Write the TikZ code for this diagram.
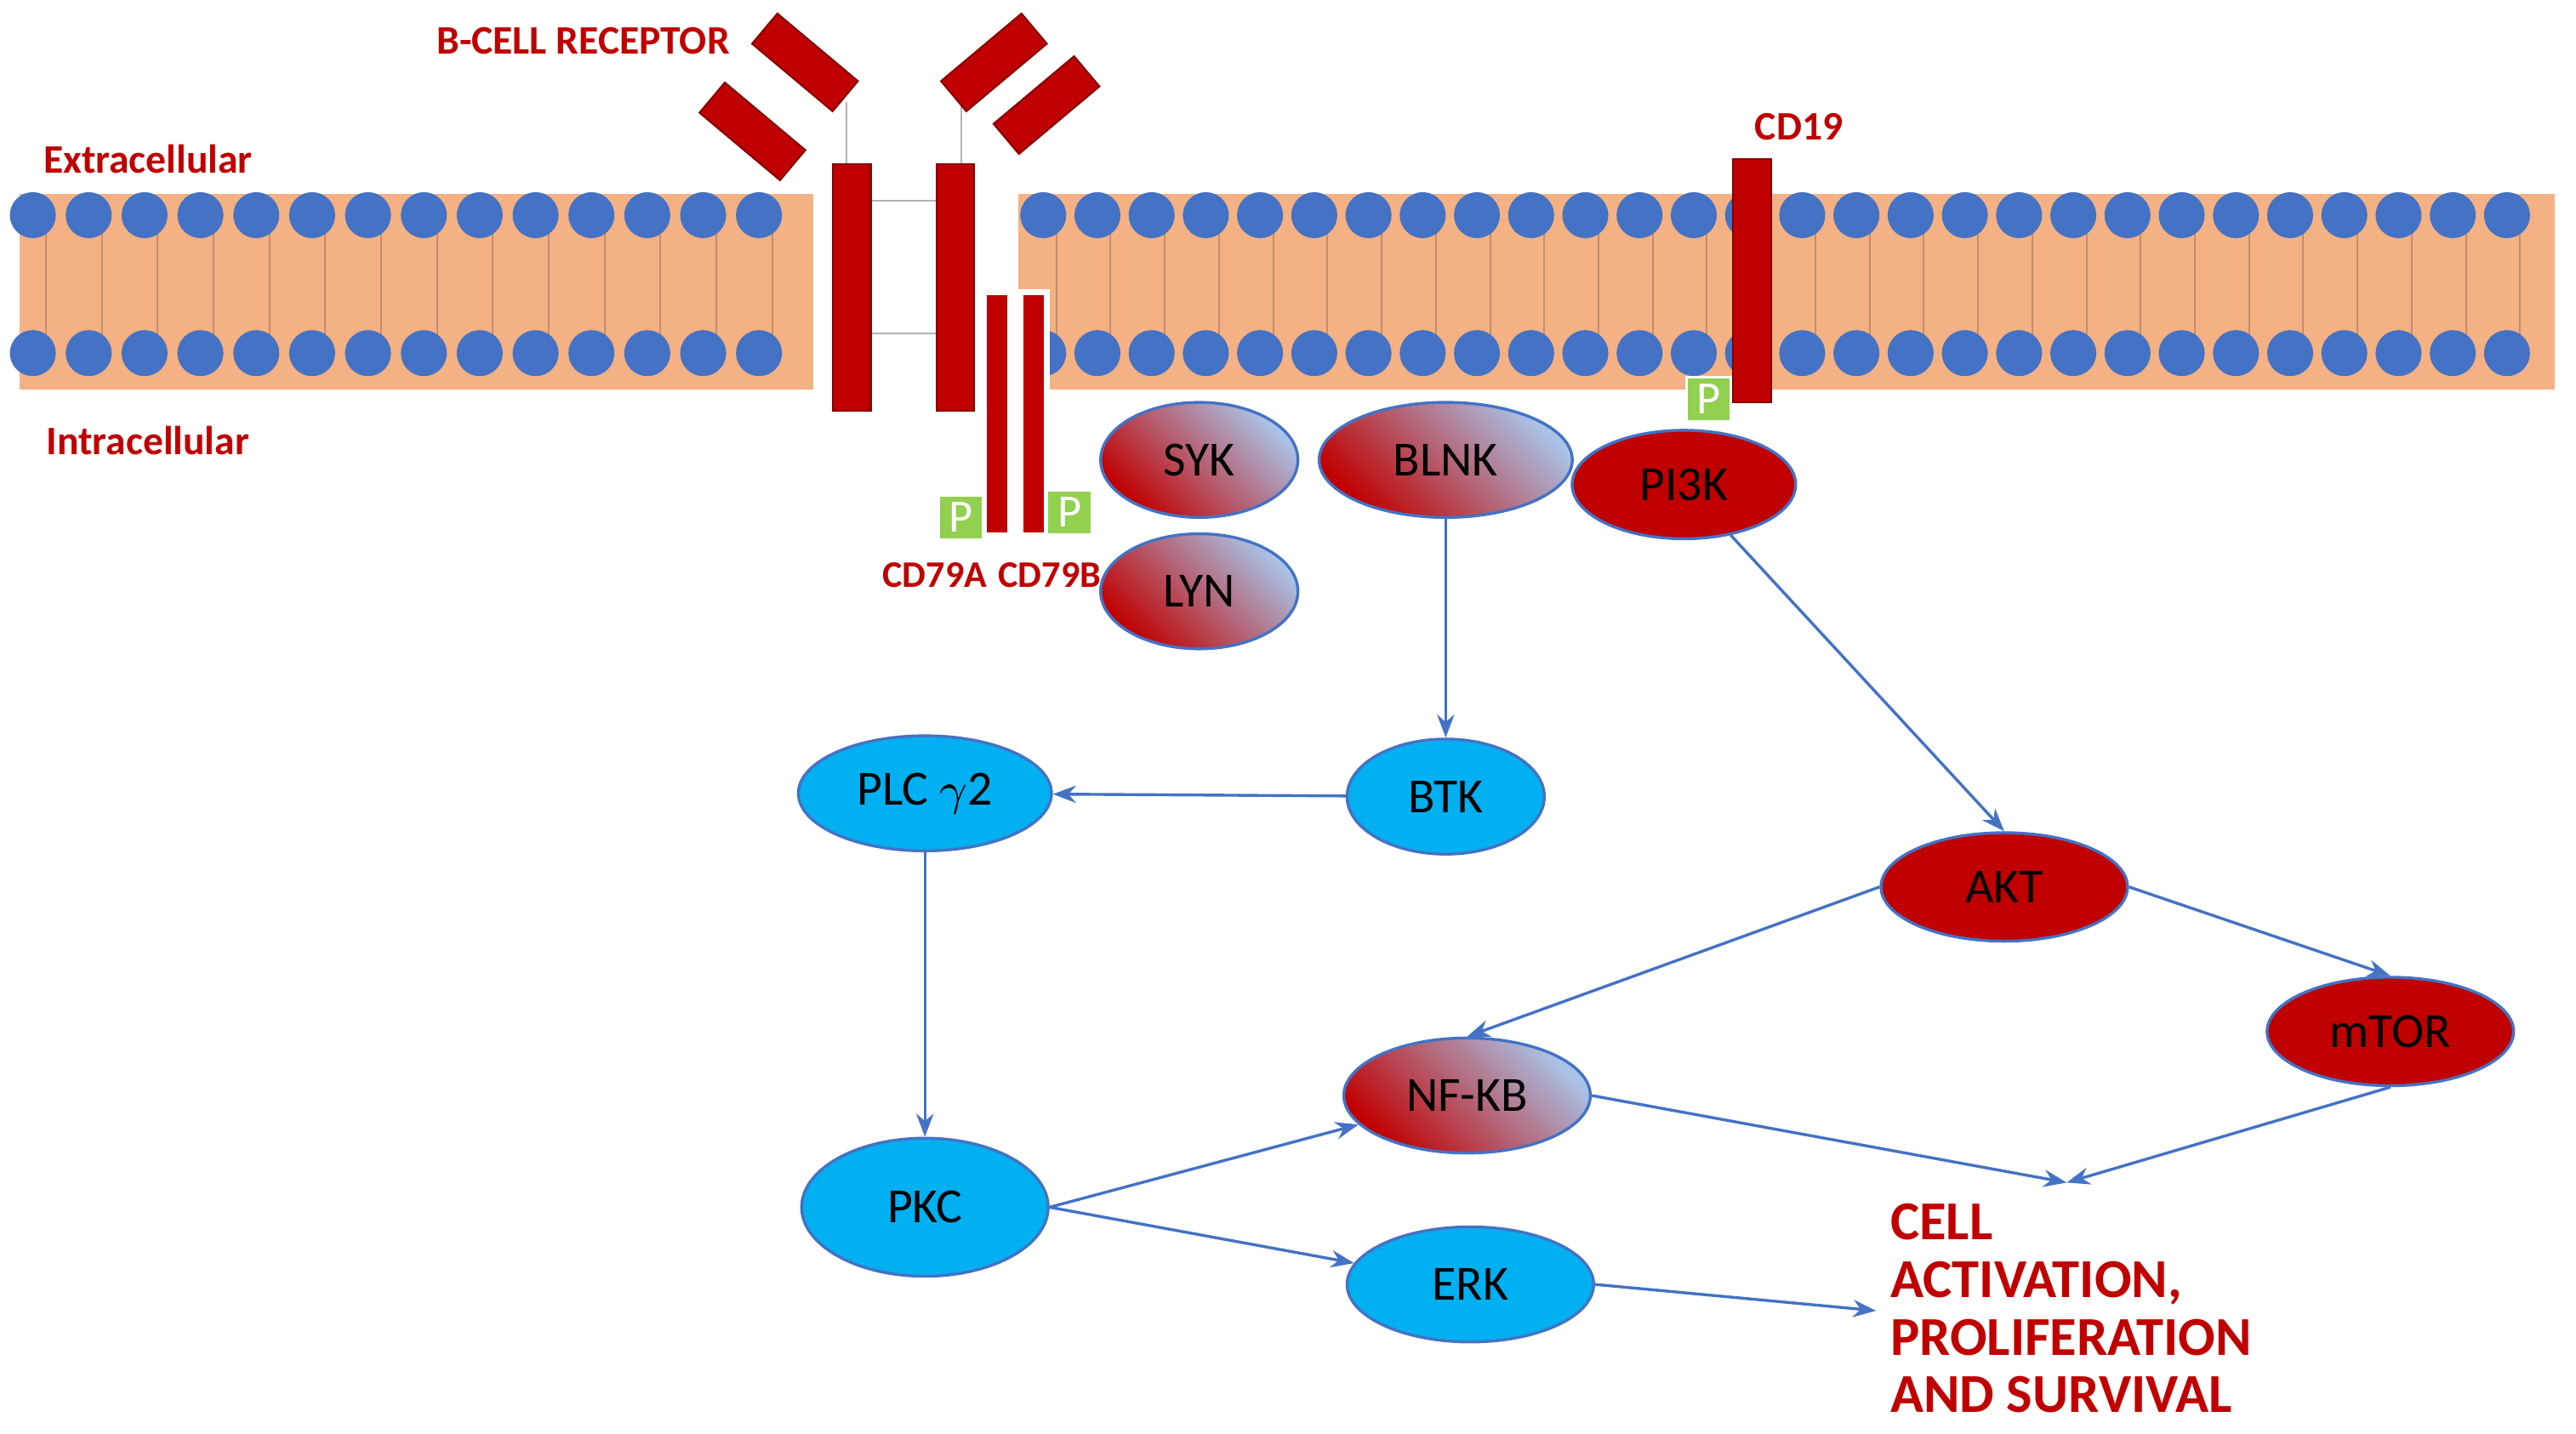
\documentclass[tikz,border=0pt]{standalone}
\usepackage{fontspec}
\setmainfont{Carlito}
\usetikzlibrary{arrows.meta,shapes.geometric}
\definecolor{dred}{HTML}{C00000}
\definecolor{lblue}{HTML}{4472C4}
\definecolor{cyanb}{HTML}{00B0F0}
\definecolor{memb}{HTML}{F4B183}
\definecolor{pgreen}{HTML}{92D050}
\definecolor{gblue}{HTML}{A9C4E8}
\tikzset{
  prot/.style={ellipse,draw=lblue,line width=0.5pt,minimum width=1.5cm,minimum height=0.7cm,font=\fontsize{8.5}{9}\selectfont,inner sep=0pt},
  grad/.style={prot,left color=dred,right color=gblue,shading angle=135},
  redp/.style={prot,fill=dred},
  cyanp/.style={prot,fill=cyanb},
  lab/.style={text=dred,font=\bfseries\fontsize{7}{8}\selectfont},
  arr/.style={draw=lblue,line width=0.5pt,-{Stealth[length=4pt,width=3pt]}},
  chain/.style={fill=dred,draw=dred!70!black,line width=0.3pt},
  pbox/.style={fill=pgreen,draw=white,line width=0.4pt,text=white,font=\fontsize{8}{9}\selectfont,minimum size=0.27cm,inner sep=0pt}
}
\begin{document}
\begin{tikzpicture}[x=0.01cm,y=-0.01cm]
        \useasboundingbox (0,0) rectangle (1568,873);
        % membrane
        \fill[memb] (12,118) rectangle (495,237);
        \fill[memb] (620,118) rectangle (1555,237);
        \foreach \x in {20,54,...,480} {
          \draw[memb!80!black,line width=0.3pt] (\x+8,131) -- (\x+8,215);
          \fill[lblue] (\x,131) circle (14);
          \fill[lblue] (\x,215) circle (14);
        }
        \foreach \x in {635,668,...,1545} {
          \draw[memb!80!black,line width=0.3pt] (\x+8,131) -- (\x+8,215);
          \fill[lblue] (\x,131) circle (14);
          \fill[lblue] (\x,215) circle (14);
        }
        % receptor
        \draw[gray!60,line width=0.3pt] (530,122) -- (570,122) (530,203) -- (570,203)
          (515,62) -- (515,100) (585,62) -- (585,100);
        \draw[chain,rotate around={-40:(490,38)}] (458,26) rectangle (522,50);
        \draw[chain,rotate around={-40:(458,80)}] (426,68) rectangle (490,92);
        \draw[chain,rotate around={40:(605,38)}] (573,26) rectangle (637,50);
        \draw[chain,rotate around={40:(637,64)}] (605,52) rectangle (669,76);
        \draw[chain] (507,100) rectangle (530,250);
        \draw[chain] (570,100) rectangle (593,250);
        \draw[chain,draw=white,line width=1pt] (599,178) rectangle (615,326);
        \draw[chain,draw=white,line width=1pt] (621,178) rectangle (637,326);
        \draw[chain] (1055,97) rectangle (1078,245);
        \draw (585,315) node[pbox](pa){P};
        \draw (651,312) node[pbox](pb){P};
        \draw (1040,243) node[pbox](pc){P};
        % labels
        \draw (355,25) node[lab](bcr){B-CELL RECEPTOR};
        \draw (90,97) node[lab](ext){Extracellular};
        \draw (90,268) node[lab](int){Intracellular};
        \draw (1095,77) node[lab](cd19){CD19};
        \draw (569,350) node[lab,font=\bfseries\fontsize{6.5}{8}\selectfont](cda){CD79A};
        \draw (639,350) node[lab,font=\bfseries\fontsize{6.5}{8}\selectfont](cdb){CD79B};
        % proteins
        \draw (730,280) node[grad,minimum width=1.2cm](syk){SYK};
        \draw (730,360) node[grad,minimum width=1.2cm](lyn){LYN};
        \draw (880,280) node[grad,minimum width=1.54cm](blnk){BLNK};
        \draw (1025,295) node[redp,minimum width=1.36cm,minimum height=0.66cm](pik){PI3K};
        \draw (880,485) node[cyanp,minimum width=1.2cm](btk){BTK};
        \draw (563,483) node[cyanp,minimum width=1.54cm](plc){PLC $\gamma$2};
        \draw (563,735) node[cyanp,minimum height=0.84cm](pkc){PKC};
        \draw (893,667) node[grad](nfkb){NF-KB};
        \draw (895,782) node[cyanp](erk){ERK};
        \draw (1220,540) node[redp,minimum height=0.66cm](akt){AKT};
        \draw (1455,628) node[redp,minimum height=0.66cm](mtor){mTOR};
        \draw (1150,732) node[anchor=north west,align=left,inner sep=0pt,text=dred,font=\bfseries\fontsize{9.5}{10}\selectfont](out){CELL\\ACTIVATION,\\PROLIFERATION\\AND SURVIVAL};
        \coordinate (j1) at (1258,720);
        \coordinate (j2) at (1142,798);
        \draw[arr] (blnk) -- (btk);
        \draw[arr] (btk) -- (plc);
        \draw[arr] (plc) -- (pkc);
        \draw[arr] (pkc.east) -- (nfkb);
        \draw[arr] (pkc.east) -- (erk);
        \draw[arr] (pik) -- (akt.north);
        \draw[arr] (akt.west) -- (nfkb.north);
        \draw[arr] (akt.east) -- (mtor.north);
        \draw[arr] (nfkb.east) -- (j1);
        \draw[arr] (mtor.south) -- (j1);
        \draw[arr] (erk.east) -- (j2);
\end{tikzpicture}
\end{document}
